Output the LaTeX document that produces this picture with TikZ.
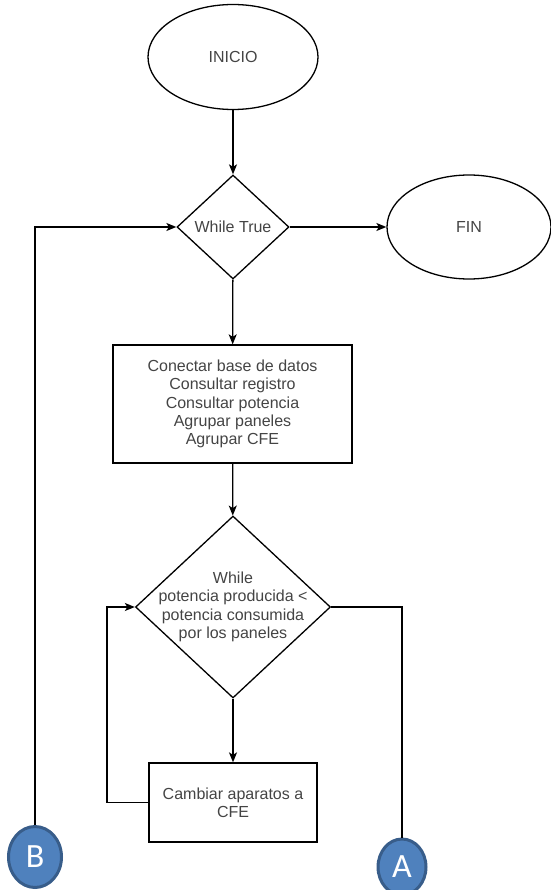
\documentclass[tikz,border=0pt]{standalone}
\usepackage{fontspec}
\setmainfont{Liberation Sans}
\newfontfamily\circfont{Carlito}
\usetikzlibrary{shapes.geometric,arrows.meta}
\definecolor{txtgray}{RGB}{68,68,68}
\definecolor{connfill}{RGB}{79,129,189}
\definecolor{connline}{RGB}{56,93,138}
\tikzset{
    box/.style={
        draw, line width=1.3pt, rectangle, inner sep=0pt,
        text=txtgray, align=center,
        font=\fontsize{16}{18.4}\selectfont
    },
    term/.style={
        draw, line width=1.3pt, ellipse, inner sep=0pt,
        text=txtgray, font=\fontsize{16}{18.4}\selectfont
    },
    decision/.style={
        draw, line width=1.3pt, diamond, inner sep=0pt
    },
    lab/.style={
        text=txtgray, align=center,
        font=\fontsize{16}{18.4}\selectfont
    },
    conn/.style={
        ellipse, fill=connfill, draw=connline, line width=3pt,
        inner sep=0pt, text=white,
        font=\circfont\fontsize{34}{38}\selectfont
    },
    flecha/.style={
        line width=1.3pt, -{Stealth[length=10pt,width=8pt,inset=2.5pt]}
    },
    linea/.style={
        line width=1.3pt
    }
}
\begin{document}
\begin{tikzpicture}[x=1pt,y=-1pt,line join=miter]

% --- frame (same size as the reference) ---
    \useasboundingbox (0,0) rectangle (550,890);

% terminals
    \node[term, minimum width=170pt, minimum height=105pt] (inicio) at (233,57) {INICIO};
    \node[term, minimum width=164pt, minimum height=104pt] (fin) at (469,227) {FIN};

% outer loop
    \node[decision, minimum width=112pt, minimum height=104pt] (mientras) at (233,227) {};
    \node[lab] (mientrastxt) at (mientras) {While True};

% tasks
    \node[box, minimum width=239pt, minimum height=118pt] (tareas) at (232.5,404)
        {Conectar base de datos\\Consultar registro\\Consultar potencia\\Agrupar paneles\\Agrupar CFE};

% inner loop
    \node[decision, minimum width=195pt, minimum height=182pt] (cond) at (233,607) {};
    \node[lab] (condtxt) at (cond)
        {While\\potencia producida <\\potencia consumida\\por los paneles};

    \node[box, minimum width=168pt, minimum height=79pt] (cambiar) at (233,802.5)
        {Cambiar aparatos a\\CFE};

% connectors to other pages
    \node[conn, minimum width=53pt, minimum height=61pt] (B) at (35,857) {B};
    \node[conn, minimum width=48pt, minimum height=56pt] (A) at (402,867) {A};

    \coordinate (vuelta) at (107,607);

% arrows
    \draw[flecha] (inicio) -- (mientras);
    \draw[flecha] (mientras) -- (fin);
    \draw[flecha] (mientras) -- (tareas);
    \draw[flecha] (tareas) -- (cond);
    \draw[flecha] (cond) -- (cambiar);
    \draw[flecha] (cambiar.west) -| (vuelta) -- (cond.west);
    \draw[linea] (cond.east) -| (A.north);
    \draw[flecha] (B.north) |- (mientras.west);

\end{tikzpicture}
\end{document}
